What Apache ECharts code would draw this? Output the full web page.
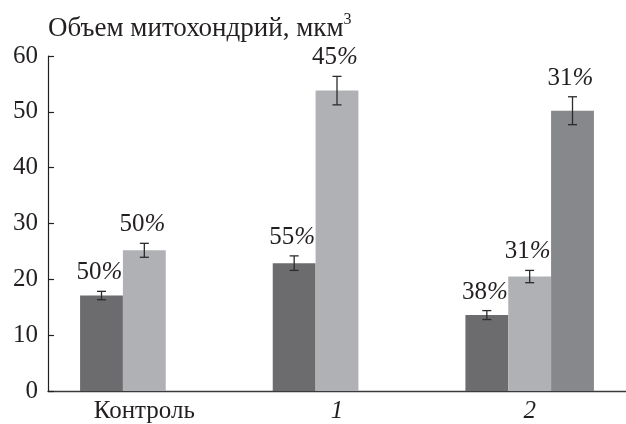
<!DOCTYPE html>
<html>
<head>
<meta charset="utf-8">
<script src="https://cdn.jsdelivr.net/npm/echarts@6/dist/echarts.min.js"></script>
<style>
  html, body { margin: 0; padding: 0; background: #fff; }
  #chart { width: 626px; height: 424px; }
</style>
</head>
<body>
<div id="chart"></div>
<script>
// Mitochondrial volume per group (µm³), mean ± error, with share labels
const categories = ['Контроль', '1', '2'];
const yTicks = [0, 10, 20, 30, 40, 50, 60];

const darkValues = [17.1, 22.9, 13.6];
const lightValues = [25.2, 53.8, 20.5];
const midValues = [null, null, 50.2];

const darkErr = [0.75, 1.3, 0.8];
const lightErr = [1.25, 2.55, 1.1];
const midErr = [null, null, 2.5];

const darkPct = [50, 55, 38];
const lightPct = [50, 45, 31];
const midPct = [null, null, 31];

const FONT = 'Liberation Serif';
const TXT = '#231f20';
const GAP = 0.333;
const SLOTS = 3;
const colors = ['#6c6c6e', '#b0b1b4', '#87888c'];

const groups = [
  { values: darkValues, err: darkErr, pct: darkPct },
  { values: lightValues, err: lightErr, pct: lightPct },
  { values: midValues, err: midErr, pct: midPct }
];

function errorSeries(idx) {
  const g = groups[idx];
  const data = [];
  g.values.forEach((v, i) => {
    if (v != null) data.push([i, v, g.err[i], g.pct[i]]);
  });
  return {
    type: 'custom',
    z: 5,
    silent: true,
    encode: { x: 0, y: 1 },
    data: data,
    renderItem: function (params, api) {
      const cat = api.value(0);
      const v = api.value(1);
      const e = api.value(2);
      const pct = api.value(3);
      const slot = api.size([1, 0])[0];
      const bw = slot * (1 - GAP) / SLOTS;
      const cx = api.coord([cat, 0])[0] + (idx - (SLOTS - 1) / 2) * bw;
      const yTop = api.coord([cat, v + e])[1];
      const yBot = api.coord([cat, v - e])[1];
      const cap = 4.5;
      const st = { stroke: '#2b2b2b', lineWidth: 1.3 };
      return {
        type: 'group',
        children: [
          { type: 'line', shape: { x1: cx, y1: yTop, x2: cx, y2: yBot }, style: st },
          { type: 'line', shape: { x1: cx - cap, y1: yTop, x2: cx + cap, y2: yTop }, style: st },
          { type: 'line', shape: { x1: cx - cap, y1: yBot, x2: cx + cap, y2: yBot }, style: st },
          {
            type: 'text',
            style: {
              text: '{n|' + pct + '}{p|%}',
              x: cx - 2,
              y: yTop - 6,
              align: 'center',
              verticalAlign: 'bottom',
              rich: {
                n: { fontFamily: FONT, fontSize: 25, fill: TXT },
                p: { fontFamily: FONT, fontSize: 25, fontStyle: 'italic', fill: TXT }
              }
            }
          }
        ]
      };
    }
  };
}

const chart = echarts.init(document.getElementById('chart'), null, { renderer: 'canvas' });

chart.setOption({
  backgroundColor: '#ffffff',
  animation: false,
  graphic: [{
    type: 'text',
    left: 48,
    top: 12,
    style: {
      text: '{t|Объем митохондрий, мкм}{s|3}',
      rich: {
        t: { fontFamily: FONT, fontSize: 27, fill: TXT, verticalAlign: 'bottom' },
        s: { fontFamily: FONT, fontSize: 16, fill: TXT, verticalAlign: 'top', padding: [0, 0, 14, 0] }
      }
    }
  }],
  grid: { left: 48, right: -8, top: 56, bottom: 32, containLabel: false },
  xAxis: {
    type: 'category',
    data: categories,
    axisLine: { show: true, lineStyle: { color: '#3a3a3a', width: 1.3 } },
    axisTick: { show: false },
    axisLabel: {
      margin: 8,
      color: TXT,
      fontFamily: FONT,
      fontSize: 25,
      formatter: function (val) {
        return val === 'Контроль' ? val : '{i|' + val + '}';
      },
      rich: { i: { fontFamily: FONT, fontSize: 25, fontStyle: 'italic', color: TXT } }
    },
    splitLine: { show: false }
  },
  yAxis: {
    type: 'value',
    min: yTicks[0],
    max: yTicks[yTicks.length - 1],
    interval: 10,
    axisLine: { show: true, lineStyle: { color: TXT, width: 1.2 } },
    axisTick: { show: true, inside: true, length: 6, lineStyle: { color: TXT, width: 1.2 } },
    axisLabel: { margin: 10, color: TXT, fontFamily: FONT, fontSize: 25 },
    splitLine: { show: false }
  },
  series: [
    { type: 'bar', name: 'A', data: darkValues, barGap: '0%', barCategoryGap: (GAP * 100) + '%', itemStyle: { color: colors[0] } },
    { type: 'bar', name: 'B', data: lightValues, barGap: '0%', barCategoryGap: (GAP * 100) + '%', itemStyle: { color: colors[1] } },
    { type: 'bar', name: 'C', data: midValues, barGap: '0%', barCategoryGap: (GAP * 100) + '%', itemStyle: { color: colors[2] } },
    errorSeries(0),
    errorSeries(1),
    errorSeries(2)
  ]
});
</script>
</body>
</html>
